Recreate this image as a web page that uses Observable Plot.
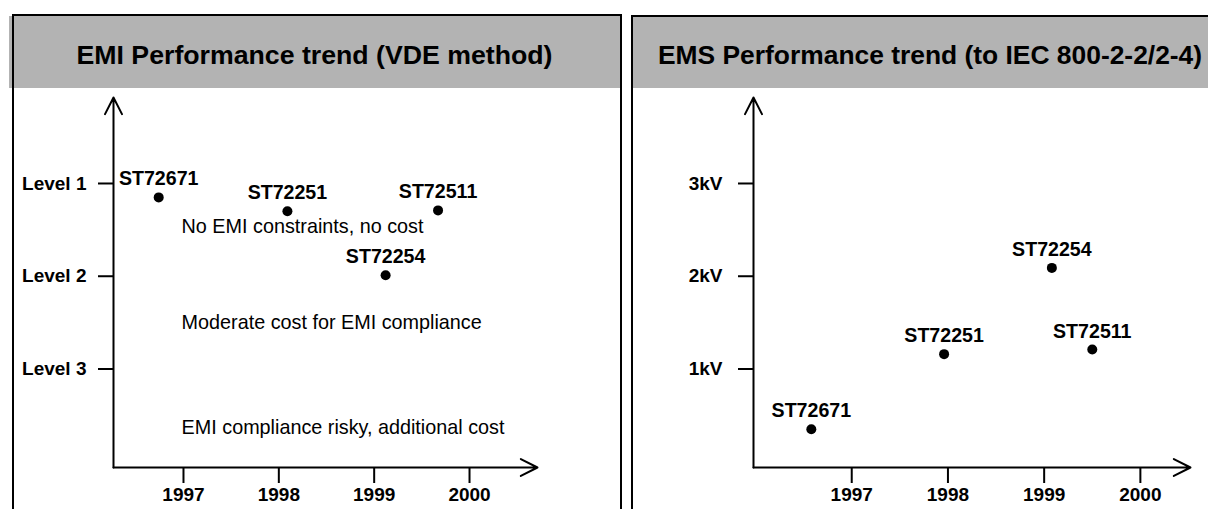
<!DOCTYPE html>
<html>
<head>
<meta charset="utf-8">
<script src="https://cdn.jsdelivr.net/npm/d3@7"></script>
<script src="https://cdn.jsdelivr.net/npm/@observablehq/plot@0.6"></script>
<style>
  html, body { margin: 0; padding: 0; background: #fff; }
  #root { position: relative; width: 1208px; height: 509px; overflow: hidden; background: #fff;
          font-family: "Liberation Sans", Arial, sans-serif; }
  .hdr { position: absolute; background: #b3b3b3; }
  .box { position: absolute; border: 2px solid #000; border-bottom: none; box-sizing: content-box; }
  .ttl { position: absolute; font-weight: bold; font-size: 26.7px; line-height: 1; white-space: nowrap;
         color: #000; text-align: center; }
  .plot { position: absolute; }
</style>
</head>
<body>
<div id="root">
  <div class="hdr" style="left:9px;top:16px;width:611px;height:72px"></div>
  <div class="hdr" style="left:633px;top:17px;width:600px;height:71px"></div>
  <div class="box" style="left:12px;top:14px;width:606px;height:520px"></div>
  <div class="box" style="left:631px;top:15px;width:606px;height:520px"></div>
  <div class="ttl" id="t1" style="left:9px;top:42px;width:611px"></div>
  <div class="ttl" id="t2" style="left:658px;top:42px;text-align:left;font-size:26.4px"></div>
  <div class="plot" id="p1" style="left:14px;top:88px"></div>
  <div class="plot" id="p2" style="left:633px;top:88px"></div>
</div>
<script>
// ---------- data ----------
const titles = ["EMI Performance trend (VDE method)", "EMS Performance trend (to IEC 800-2-2/2-4)"];
const years = [1997, 1998, 1999, 2000];
const levelTicks = [1, 2, 3];
const levelLabels = ["Level 1", "Level 2", "Level 3"];
const kvTicks = [1, 2, 3];
const kvLabels = ["1kV", "2kV", "3kV"];
const parts = ["ST72671", "ST72251", "ST72511", "ST72254"];
// EMI panel (level, 1 = best)
const emiYear = [1996.74, 1998.09, 1999.67, 1999.12];
const emiLevel = [1.15, 1.30, 1.29, 1.99];
// EMS panel (kV)
const emsYear = [1996.58, 1997.96, 1999.50, 1999.08];
const emsKV = [0.35, 1.16, 1.21, 2.09];
// zone captions in EMI panel
const zoneText = ["No EMI constraints, no cost", "Moderate cost for EMI compliance", "EMI compliance risky, additional cost"];
const zoneLevel = [1.47, 2.50, 3.63];
const zoneYear = 1996.98;

document.getElementById("t1").textContent = titles[0];
document.getElementById("t2").textContent = titles[1];

const FONT = "'Liberation Sans', Arial, sans-serif";

function panel(opts) {
  const {width, height, marginLeft, marginRight, marginTop, marginBottom,
         xDomain, yDomain, yTicks, yFormat, yTickSize, yTickPadding,
         px, py, extra} = opts;
  const pts = parts.map((name, i) => ({name, x: px[i], y: py[i]}));
  const axes = [
    {x1: xDomain[0], y1: yDomain[0], x2: xDomain[0], y2: yDomain[1]},
    {x1: xDomain[0], y1: yDomain[0], x2: xDomain[1], y2: yDomain[0]}
  ];
  return Plot.plot({
    width, height, marginLeft, marginRight, marginTop, marginBottom,
    x: {domain: xDomain, axis: null},
    y: {domain: yDomain, axis: null},
    style: {fontFamily: FONT, fontSize: "19px", fontWeight: "bold", background: "transparent", color: "#000", overflow: "visible"},
    marks: [
      Plot.arrow(axes, {x1: "x1", y1: "y1", x2: "x2", y2: "y2", stroke: "#000", strokeWidth: 2,
                        headLength: 14, headAngle: 54}),
      Plot.axisY(yTicks, {tickFormat: yFormat, tickSize: yTickSize, tickPadding: yTickPadding,
                          strokeWidth: 2, label: null, fontWeight: "bold", fontSize: 19}),
      Plot.axisX(years, {tickFormat: d => String(d), tickSize: 16, tickPadding: 4,
                         strokeWidth: 2, label: null, fontWeight: "bold", fontSize: 19}),
      ...(extra || []),
      Plot.dot(pts, {x: "x", y: "y", r: 5, fill: "#000", stroke: null}),
      Plot.text(pts, {x: "x", y: "y", text: "name", dy: -12, lineAnchor: "bottom",
                      fontWeight: "bold", fontSize: 19.6, fill: "#000"})
    ]
  });
}

const zones = zoneText.map((t, i) => ({t, y: zoneLevel[i]}));

const p1 = panel({
  width: 606, height: 421, marginLeft: 99, marginRight: 83, marginTop: 9, marginBottom: 42,
  xDomain: [1996.266, 2000.713], yDomain: [4.062, 0.073],
  yTicks: levelTicks, yFormat: d => levelLabels[levelTicks.indexOf(d)],
  yTickSize: 15, yTickPadding: 12,
  px: emiYear, py: emiLevel,
  extra: [Plot.text(zones, {x: () => zoneYear, y: "y", text: "t", textAnchor: "start",
                            lineAnchor: "middle", fontWeight: "normal", fontSize: 19.8, fill: "#000"})]
});
document.getElementById("p1").appendChild(p1);

const p2 = panel({
  width: 575, height: 421, marginLeft: 120, marginRight: 18, marginTop: 9, marginBottom: 42,
  xDomain: [1995.979, 2000.521], yDomain: [-0.062, 3.927],
  yTicks: kvTicks, yFormat: d => kvLabels[kvTicks.indexOf(d)],
  yTickSize: 15, yTickPadding: 16,
  px: emsYear, py: emsKV
});
document.getElementById("p2").appendChild(p2);
</script>
</body>
</html>
